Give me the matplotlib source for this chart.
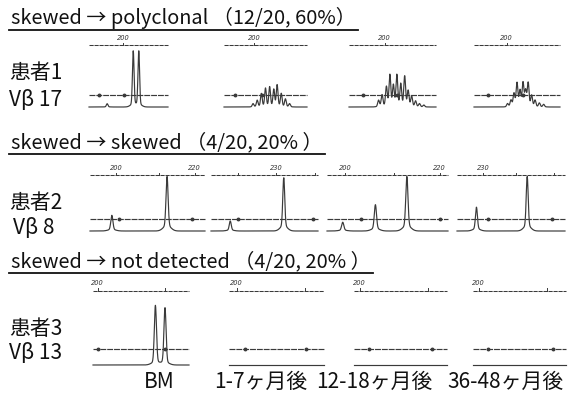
import numpy as np
import matplotlib
matplotlib.use("Agg")
import matplotlib.pyplot as plt
from matplotlib.lines import Line2D

plt.rcParams['font.family'] = ['Noto Sans CJK JP', 'DejaVu Sans']

W, H = 570, 397

# ---- text ----
group_titles = ["skewed → polyclonal （12/20, 60%）",
                "skewed → skewed （4/20, 20% ）",
                "skewed → not detected （4/20, 20% ）"]
patient_labels = ["患者1", "患者2", "患者3"]
vbeta_labels = ["Vβ 17", "Vβ 8", "Vβ 13"]
timepoints = ["BM", "1-7ヶ月後", "12-18ヶ月後", "36-48ヶ月後"]

# ---- peak data: position in the size window (0-1) and relative height ----
pt1_pos = [
    [0.23, 0.56, 0.63],
    [0.35, 0.40, 0.45, 0.50, 0.55, 0.60, 0.64, 0.69, 0.74, 0.79],
    [0.34, 0.38, 0.43, 0.47, 0.51, 0.55, 0.595, 0.64, 0.68, 0.72, 0.765, 0.81, 0.86],
    [0.39, 0.43, 0.465, 0.50, 0.535, 0.57, 0.60, 0.63, 0.67, 0.71, 0.76, 0.81],
]
pt1_h = [
    [0.05, 0.85, 0.85],
    [0.05, 0.10, 0.20, 0.28, 0.30, 0.26, 0.33, 0.20, 0.12, 0.05],
    [0.10, 0.18, 0.30, 0.48, 0.32, 0.48, 0.34, 0.46, 0.24, 0.16, 0.09, 0.05, 0.03],
    [0.05, 0.10, 0.20, 0.36, 0.24, 0.36, 0.24, 0.36, 0.17, 0.10, 0.06, 0.04],
]
pt2_pos = [
    [0.19, 0.67],
    [0.18, 0.68],
    [0.13, 0.40, 0.66],
    [0.18, 0.65],
]
pt2_h = [
    [0.25, 0.87],
    [0.16, 0.85],
    [0.14, 0.42, 0.87],
    [0.38, 0.87],
]
pt3_pos = [
    [0.65, 0.75],
    [],
    [],
    [],
]
pt3_h = [
    [0.76, 0.73],
    [],
    [],
    [],
]
peak_pos = [pt1_pos, pt2_pos, pt3_pos]
peak_h = [pt1_h, pt2_h, pt3_h]

# size-standard markers on the middle trace
marker_pos = [
    [[0.13, 0.44], [0.13, 0.46], [0.16, 0.55], [0.16, 0.57]],
    [[0.25, 0.89], [0.25, 0.95], [0.28, 0.93], [0.29, 0.88]],
    [[0.05, 0.75], [0.17, 0.81], [0.16, 0.84], [0.16, 0.86]],
]
# size ruler: labelled ticks and plain ticks
ruler_labels = [
    [[(0.43, "200")], [(0.36, "200")], [(0.41, "200")], [(0.38, "200")]],
    [[(0.23, "200"), (0.91, "220")], [(0.61, "230")],
     [(0.15, "200"), (0.93, "220")], [(0.24, "230")]],
    [[(0.05, "200")], [(0.08, "200")], [(0.06, "200")], [(0.06, "200")]],
]
ruler_ticks = [
    [[0.43], [0.36], [0.41], [0.38]],
    [[0.23, 0.60, 0.91], [0.25, 0.61, 0.97], [0.15, 0.55, 0.93], [0.24, 0.55, 0.90]],
    [[0.05, 0.75], [0.08, 0.80], [0.06, 0.80], [0.06, 0.80]],
]

# ---- layout (pixels) ----
row_ruler_y = [45, 175, 291]
row_mid_y = [95, 219, 349]
row_base_y = [107, 231, 365]
row_cols = [
    [(89, 168), (224, 307), (349, 436), (474, 560)],
    [(90, 205), (211, 318), (327, 448), (457, 565)],
    [(93, 189), (229, 324), (354, 447), (473, 566)],
]
row_sigma = [0.010, 0.009, 0.011]
row_shoulder = [0.06, 0.12, 0.06]
title_y = [18, 143, 262]
patient_y = [(73, 100), (203, 228), (329, 353)]
patient_x = [(9, 9), (9, 13), (9, 9)]
bottom_label_x = [159, 261, 374, 505]
bottom_label_y = 382

LC = '#3a3a3a'

fig = plt.figure(figsize=(W / 100, H / 100), dpi=100)


def fx(x):
    return x / W


def fy(y):
    return 1 - y / H


title_artists = []
for r in range(3):
    top, mid, base = row_ruler_y[r], row_mid_y[r], row_base_y[r]
    m = (base - mid) / (base - top)
    for c, (x0, x1) in enumerate(row_cols[r]):
        ax = fig.add_axes([fx(x0), fy(base), (x1 - x0) / W, (base - top) / H])
        ax.set_xlim(0, 1)
        ax.set_ylim(0, 1)
        ax.axis('off')
        x = np.linspace(0, 1, 800)
        s = row_sigma[r]
        y = np.zeros_like(x)
        for p, h in zip(peak_pos[r][c], peak_h[r][c]):
            y += h * np.exp(-(x - p) ** 2 / (2 * s ** 2))
            y += row_shoulder[r] * h * np.exp(-(x - p) ** 2 / (2 * (3.5 * s) ** 2))
        # size ruler
        ax.plot([0, 1], [1, 1], color=LC, lw=0.75, ls=(0, (4, 0.8)), clip_on=False)
        for p in ruler_ticks[r][c]:
            ax.plot([p, p], [1, 1.035], color=LC, lw=0.7, clip_on=False)
        for p, t in ruler_labels[r][c]:
            ax.text(p, 1.07, t, fontsize=4.8, ha='center', va='bottom',
                    color='#333333', style='italic', family='DejaVu Sans')
        # middle trace with standard markers
        ax.plot([0, 1], [m, m], color=LC, lw=0.85, ls=(0, (5, 0.8)), clip_on=False)
        mp = marker_pos[r][c]
        ax.plot(mp, [m] * len(mp), 'o', ms=1.8, color=LC, clip_on=False)
        # sample trace
        ax.plot(x, y, color=LC, lw=0.85, clip_on=False)

    # group heading
    title_artists.append(fig.text(fx(11), fy(title_y[r]), group_titles[r],
                                  fontsize=14, ha='left', va='center',
                                  color='#111111'))
    # patient labels
    fig.text(fx(patient_x[r][0]), fy(patient_y[r][0]), patient_labels[r],
             fontsize=15, ha='left', va='center', color='#111111')
    fig.text(fx(patient_x[r][1]), fy(patient_y[r][1]), vbeta_labels[r],
             fontsize=15, ha='left', va='center', color='#111111')

# time-point labels under the columns
for xc, t in zip(bottom_label_x, timepoints):
    fig.text(fx(xc), fy(bottom_label_y), t, fontsize=15,
             ha='center', va='center', color='#111111')

# size the headings so the first one spans its underline length
fig.canvas.draw()
renderer = fig.canvas.get_renderer()
w0 = title_artists[0].get_window_extent(renderer).width
size = 14 * 345 / w0
for t in title_artists:
    t.set_fontsize(size)
fig.canvas.draw()

# underline each heading
for t in title_artists:
    bb = t.get_window_extent(renderer)
    ybar = bb.y0 - 0.5
    fig.add_artist(Line2D([(bb.x0 - 2) / W, (bb.x1 + 2) / W],
                          [ybar / H, ybar / H], color='#111111', lw=1.3,
                          transform=fig.transFigure))

fig.savefig('out.png', dpi=100)
